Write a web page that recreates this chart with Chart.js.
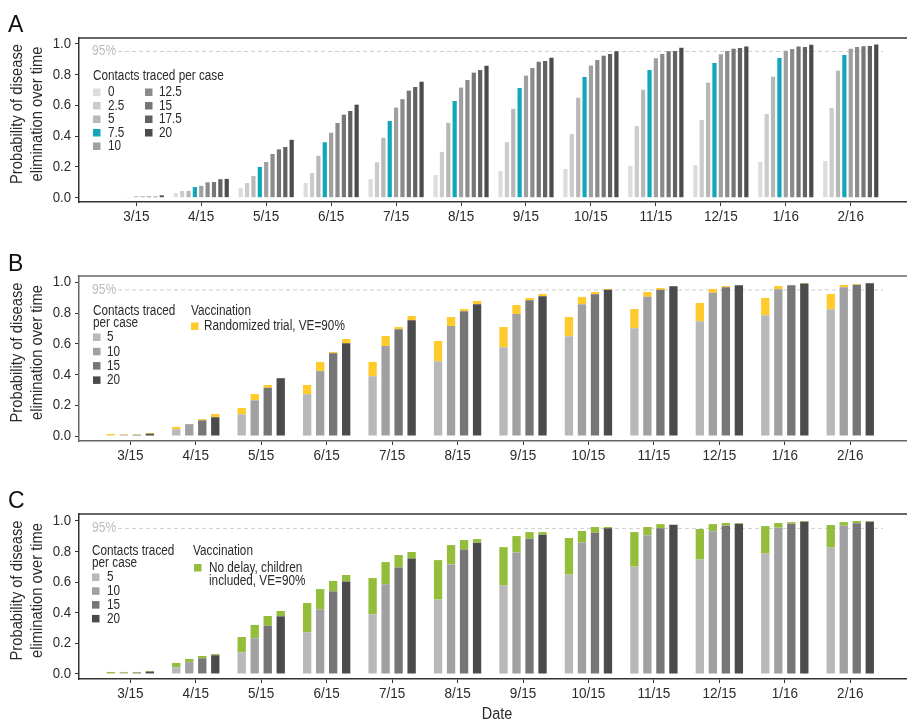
<!DOCTYPE html>
<html>
<head>
<meta charset="utf-8">
<script src="https://cdn.jsdelivr.net/npm/chart.js@4.4.1/dist/chart.umd.min.js"></script>
<style>
  body { margin: 0; background: #fff; }
  .panel { position: absolute; left: 0; width: 907px; }
</style>
</head>
<body>
<div class="panel" style="top:0;height:240px"><canvas id="chartA" width="907" height="240"></canvas></div>
<div class="panel" style="top:240px;height:230px"><canvas id="chartB" width="907" height="230"></canvas></div>
<div class="panel" style="top:470px;height:252px"><canvas id="chartC" width="907" height="252"></canvas></div>
<script>
// data
const dates = ['3/15', '4/15', '5/15', '6/15', '7/15', '8/15', '9/15', '10/15', '11/15', '12/15', '1/16', '2/16'];
const contactsA = ['0', '2.5', '5', '7.5', '10', '12.5', '15', '17.5', '20'];
const contactsBC = ['5', '10', '15', '20'];
const yTicks = [0, 0.2, 0.4, 0.6, 0.8, 1.0];

// probability of elimination, contact tracing only
const elim0 = [0.003, 0.030, 0.063, 0.095, 0.120, 0.147, 0.173, 0.186, 0.206, 0.212, 0.232, 0.238];
const elim2_5 = [0.003, 0.043, 0.095, 0.160, 0.230, 0.297, 0.361, 0.413, 0.465, 0.504, 0.543, 0.582];
const elim5 = [0.004, 0.044, 0.141, 0.272, 0.389, 0.486, 0.577, 0.649, 0.701, 0.747, 0.786, 0.825];
const elim7_5 = [0.003, 0.069, 0.200, 0.360, 0.498, 0.628, 0.712, 0.784, 0.829, 0.874, 0.907, 0.926];
const elim10 = [0.008, 0.077, 0.232, 0.422, 0.585, 0.715, 0.793, 0.858, 0.906, 0.932, 0.955, 0.968];
const elim12_5 = [0.008, 0.100, 0.284, 0.485, 0.640, 0.764, 0.842, 0.894, 0.933, 0.952, 0.965, 0.978];
const elim15 = [0.008, 0.102, 0.314, 0.539, 0.695, 0.812, 0.883, 0.922, 0.951, 0.968, 0.981, 0.984];
const elim17_5 = [0.007, 0.120, 0.329, 0.563, 0.719, 0.829, 0.887, 0.933, 0.952, 0.972, 0.978, 0.985];
const elim20 = [0.015, 0.122, 0.376, 0.604, 0.753, 0.857, 0.909, 0.951, 0.974, 0.981, 0.993, 0.994];

// with vaccination: randomized trial, VE=90%
const trial5 = [0.013, 0.059, 0.182, 0.332, 0.482, 0.618, 0.709, 0.774, 0.826, 0.866, 0.898, 0.924];
const trial10 = [0.011, 0.078, 0.273, 0.482, 0.651, 0.774, 0.852, 0.905, 0.937, 0.957, 0.976, 0.983];
const trial15 = [0.011, 0.110, 0.332, 0.547, 0.709, 0.826, 0.898, 0.937, 0.963, 0.976, 0.983, 0.989];
const trial20 = [0.020, 0.143, 0.377, 0.631, 0.781, 0.879, 0.924, 0.957, 0.976, 0.983, 0.996, 0.996];

// with vaccination: no delay, children included, VE=90%
const noDelay5 = [0.013, 0.072, 0.241, 0.463, 0.626, 0.743, 0.828, 0.887, 0.926, 0.946, 0.965, 0.972];
const noDelay10 = [0.013, 0.098, 0.320, 0.554, 0.730, 0.841, 0.900, 0.933, 0.959, 0.978, 0.985, 0.991];
const noDelay15 = [0.013, 0.117, 0.378, 0.607, 0.776, 0.874, 0.926, 0.959, 0.978, 0.985, 0.991, 0.998];
const noDelay20 = [0.020, 0.130, 0.411, 0.646, 0.796, 0.880, 0.926, 0.959, 0.972, 0.985, 0.998, 0.998];

// styles
const FONT = "'Liberation Sans', Arial, sans-serif";
const greysA = ['#dcdcdd', '#cbcbcc', '#b8b8b9', '#12a6bb', '#a0a0a3', '#8b8b8e', '#767679', '#626264', '#4b4b4d'];
const greysBC = ['#b8b8b9', '#a0a0a3', '#767679', '#4b4b4d'];
const yellow = '#ffca2c';
const green = '#93bd3b';
const textColor = '#2a2a2a';

Chart.defaults.font.family = FONT;
Chart.defaults.color = textColor;
Chart.defaults.animation = false;

const toXY = arr => arr.map((v, i) => ({ x: i, y: v }));

// condensed-looking text: squeeze the glyphs horizontally
function txt(ctx, s, x, y, size, sx, align, color, base) {
  ctx.save();
  ctx.translate(x, y);
  ctx.scale(sx, 1);
  ctx.font = `${size}px ${FONT}`;
  ctx.fillStyle = color || textColor;
  ctx.textAlign = align || 'left';
  ctx.textBaseline = base || 'middle';
  ctx.fillText(s, 0, 0);
  ctx.restore();
}

function scales(p) {
  return {
    x: {
      type: 'linear',
      offset: false,
      min: p.xmin,
      max: p.xmax,
      afterFit(scale) { scale.height = p.xh; },
      afterBuildTicks(scale) { scale.ticks = dates.map((d, i) => ({ value: i })); },
      ticks: { display: false },
      grid: { offset: false, drawOnChartArea: false, drawTicks: true, tickLength: 4, color: '#333' },
      border: { display: true, color: p.frame, width: 1.5 }
    },
    y: {
      stacked: p.stacked,
      min: p.ymin,
      max: p.ymax,
      afterFit(scale) { scale.width = 79; },
      afterBuildTicks(scale) { scale.ticks = yTicks.map(v => ({ value: v })); },
      ticks: { display: false },
      grid: { drawOnChartArea: false, drawTicks: true, tickLength: 4, color: '#333' },
      border: { display: true, color: p.frame, width: 1.5 }
    }
  };
}

const LS = 0.84; // legend squeeze

function swatch(ctx, x, y, color, label, lx) {
  ctx.fillStyle = color;
  ctx.fillRect(x, y - 3.5, 7.5, 7.5);
  txt(ctx, label, lx, y + 0.5, 14, LS);
}

function deco(p) {
  return {
    id: 'deco',
    beforeDatasetsDraw(chart) {
      const { ctx, scales: { y } } = chart;
      const y95 = y.getPixelForValue(0.95);
      ctx.save();
      ctx.setLineDash([4, 3]);
      ctx.strokeStyle = '#cdcdcd';
      ctx.lineWidth = 1;
      ctx.beginPath();
      ctx.moveTo(118, y95);
      ctx.lineTo(883, y95);
      ctx.stroke();
      ctx.restore();
      txt(ctx, '95%', 92, y95, 14, 0.86, 'left', '#bcbcbc');
    },
    afterDraw(chart) {
      const { ctx, chartArea: { top, bottom, left, right }, scales: { x, y } } = chart;
      ctx.save();
      // top of the frame
      ctx.strokeStyle = p.frame;
      ctx.lineWidth = 1.5;
      ctx.beginPath();
      ctx.moveTo(left, top);
      ctx.lineTo(right, top);
      ctx.stroke();
      ctx.restore();

      // tick labels
      dates.forEach((d, i) => txt(ctx, d, x.getPixelForValue(i), bottom + 15, 15, 0.9, 'center'));
      yTicks.forEach(v => txt(ctx, v.toFixed(1), 71, y.getPixelForValue(v), 15, 0.88, 'right'));

      // panel letter
      txt(ctx, p.letter, 8, p.letterY, 23, 1, 'left', '#111', 'alphabetic');

      // y axis title
      const cy = (top + bottom) / 2 - 6;
      ctx.save();
      ctx.translate(0, cy);
      ctx.rotate(-Math.PI / 2);
      txt(ctx, 'Probability of disease', 0, 22, 16, 0.92, 'center', textColor, 'alphabetic');
      txt(ctx, 'elimination over time', 0, 41.5, 16, 0.92, 'center', textColor, 'alphabetic');
      ctx.restore();

      // legend
      p.legend(ctx);

      if (p.xTitle) txt(ctx, 'Date', 497, 249, 16, 0.9, 'center', textColor, 'alphabetic');
    }
  };
}

// panel A
const seriesA = [elim0, elim2_5, elim5, elim7_5, elim10, elim12_5, elim15, elim17_5, elim20];
const panelA = { letter: 'A', letterY: 32, frame: '#333', xmin: -0.882, xmax: 11.866, ymin: -0.028, ymax: 1.037, xh: 38, stacked: false,
  legend(ctx) {
    txt(ctx, 'Contacts traced per case', 93, 76, 14, LS);
    contactsA.forEach((c, k) => {
      const col = k < 5 ? 0 : 1;
      const row = k < 5 ? k : k - 5;
      swatch(ctx, col ? 145 : 93, 92 + row * 13.5, greysA[k], c, col ? 159 : 108);
    });
  }
};
new Chart(document.getElementById('chartA'), {
  type: 'bar',
  data: {
    datasets: seriesA.map((s, k) => ({
      label: contactsA[k], data: toXY(s), backgroundColor: greysA[k],
      categoryPercentage: 0.883, barPercentage: 0.66
    }))
  },
  options: {
    responsive: false,
    devicePixelRatio: 1,
    layout: { padding: { top: 38, right: 0, left: 0, bottom: 0 } },
    plugins: { legend: { display: false }, tooltip: { enabled: false } },
    scales: scales(panelA)
  },
  plugins: [deco(panelA)]
});

// panels B and C: contact tracing plus vaccination, stacked
const baseBC = [elim5, elim10, elim15, elim20];

function vaccChart(id, p, totals, vColor) {
  const bases = baseBC.map((s, k) => ({
    label: contactsBC[k], data: toXY(s), backgroundColor: greysBC[k], stack: 's' + k,
    categoryPercentage: 0.795, barPercentage: 0.64
  }));
  const extra = totals.map((t, k) => ({
    label: 'vacc ' + contactsBC[k],
    data: toXY(t.map((v, i) => Math.max(v - baseBC[k][i], 0))),
    backgroundColor: vColor, stack: 's' + k,
    categoryPercentage: 0.795, barPercentage: 0.64
  }));
  new Chart(document.getElementById(id), {
    type: 'bar',
    data: { datasets: bases.concat(extra) },
    options: {
      responsive: false,
      devicePixelRatio: 1,
      layout: { padding: { top: p.padTop, right: 0, left: 0, bottom: 0 } },
      plugins: { legend: { display: false }, tooltip: { enabled: false } },
      scales: scales(p)
    },
    plugins: [deco(p)]
  });
}

const panelB = { letter: 'B', letterY: 31, frame: '#666', xmin: -0.784, xmax: 11.867, ymin: -0.0325, ymax: 1.041, xh: 29, padTop: 36, stacked: true,
  legend(ctx) {
    txt(ctx, 'Contacts traced', 93, 71, 14, LS);
    txt(ctx, 'per case', 93, 83, 14, LS);
    contactsBC.forEach((c, k) => swatch(ctx, 93, 97 + k * 14.3, greysBC[k], c, 107));
    txt(ctx, 'Vaccination', 191, 71, 14, LS);
    swatch(ctx, 191, 86, yellow, 'Randomized trial, VE=90%', 204);
  }
};
vaccChart('chartB', panelB, [trial5, trial10, trial15, trial20], yellow);

const panelC = { letter: 'C', letterY: 38, frame: '#333', xmin: -0.784, xmax: 11.867, ymin: -0.033, ymax: 1.044, xh: 43, padTop: 44, stacked: true, xTitle: true,
  legend(ctx) {
    txt(ctx, 'Contacts traced', 92, 81, 14, LS);
    txt(ctx, 'per case', 92, 93, 14, LS);
    contactsBC.forEach((c, k) => swatch(ctx, 92, 107 + k * 13.8, greysBC[k], c, 107));
    txt(ctx, 'Vaccination', 193, 81, 14, LS);
    swatch(ctx, 194, 97.5, green, 'No delay, children', 209);
    txt(ctx, 'included, VE=90%', 209, 111.5, 14, LS);
  }
};
vaccChart('chartC', panelC, [noDelay5, noDelay10, noDelay15, noDelay20], green);
</script>
</body>
</html>
